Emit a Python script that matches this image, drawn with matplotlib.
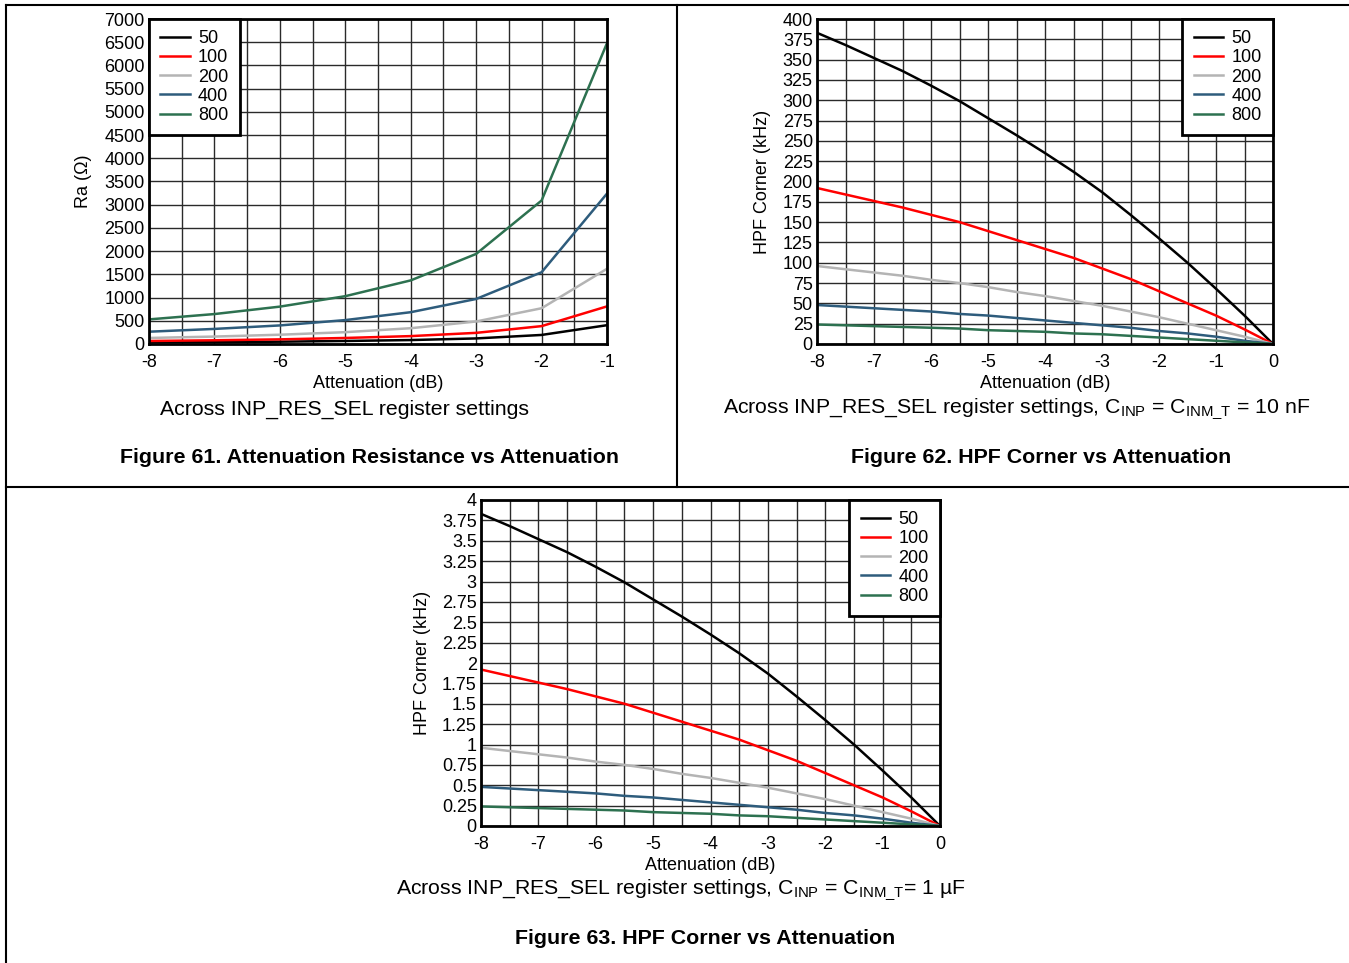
import numpy as np
import matplotlib
matplotlib.use("Agg")
import matplotlib.pyplot as plt
from matplotlib.lines import Line2D

plt.rcParams['font.family'] = ['Liberation Sans', 'DejaVu Sans']
plt.rcParams['mathtext.fontset'] = 'custom'
plt.rcParams['mathtext.rm'] = 'Liberation Sans'
plt.rcParams['axes.unicode_minus'] = False

# series labels and colours (INP_RES_SEL settings)
settings = ['50', '100', '200', '400', '800']
colors = ['#000000', '#ff0000', '#b4b4b4', '#2e5c7c', '#2d7150']

# Figure 61: attenuation resistance, read at integer dB
atten_ra = [-8, -7, -6, -5, -4, -3, -2, -1]
ra_50 = [35, 40, 50, 65, 85, 120, 195, 405]
ra_100 = [65, 80, 100, 130, 170, 240, 385, 810]
ra_200 = [130, 160, 200, 255, 340, 485, 770, 1620]
ra_400 = [265, 325, 400, 515, 685, 970, 1545, 3240]
ra_800 = [530, 645, 805, 1030, 1370, 1940, 3090, 6480]

# Figure 62: HPF corner (kHz), C = 10 nF, read every 0.5 dB
atten_hpf = [-8, -7.5, -7, -6.5, -6, -5.5, -5, -4.5, -4, -3.5, -3,
             -2.5, -2, -1.5, -1, -0.5, 0]
hpf10_50 = [383, 368, 352, 336, 318, 299, 278, 257, 235, 212, 187,
            159, 130, 100, 68, 35, 0]
hpf10_100 = [192, 184, 176, 168, 159, 150, 139, 128, 117, 106, 93,
             80, 65, 50, 35, 18, 0]
hpf10_200 = [96, 92, 88, 84, 79, 75, 70, 64, 59, 53, 47,
             40, 33, 25, 17, 9, 0]
hpf10_400 = [48, 46, 44, 42, 40, 37, 35, 32, 29, 26, 23,
             20, 16, 13, 9, 4, 0]
hpf10_800 = [24, 23, 22, 21, 20, 19, 17, 16, 15, 13, 12,
             10, 8, 6, 4, 2, 0]

# Figure 63: HPF corner (kHz), C = 1 uF
hpf1_50 = [3.83, 3.68, 3.52, 3.36, 3.18, 2.99, 2.78, 2.57, 2.35, 2.12, 1.87,
           1.59, 1.30, 1.00, 0.68, 0.35, 0]
hpf1_100 = [1.92, 1.84, 1.76, 1.68, 1.59, 1.50, 1.39, 1.28, 1.17, 1.06, 0.93,
            0.80, 0.65, 0.50, 0.35, 0.18, 0]
hpf1_200 = [0.96, 0.92, 0.88, 0.84, 0.79, 0.75, 0.70, 0.64, 0.59, 0.53, 0.47,
            0.40, 0.33, 0.25, 0.17, 0.09, 0]
hpf1_400 = [0.48, 0.46, 0.44, 0.42, 0.40, 0.37, 0.35, 0.32, 0.29, 0.26, 0.23,
            0.20, 0.16, 0.13, 0.09, 0.04, 0]
hpf1_800 = [0.24, 0.23, 0.22, 0.21, 0.20, 0.19, 0.17, 0.16, 0.15, 0.13, 0.12,
            0.10, 0.08, 0.06, 0.04, 0.02, 0]

W, H = 1349, 963
FS = 13


def box(l, t, r, b):
    # pixel box -> figure fraction rect
    return [l / W, 1 - b / H, (r - l) / W, (b - t) / H]


def style_axes(ax, xlim, ylim, ystep, ylabels, legend_loc):
    ax.set_xlim(*xlim)
    ax.set_ylim(*ylim)
    ax.set_xticks(np.arange(xlim[0], xlim[1] + 0.1, 1))
    ax.set_xticks(np.arange(xlim[0], xlim[1] + 0.1, 0.5), minor=True)
    ax.set_yticks(np.arange(ylim[0], ylim[1] + ystep / 2, ystep))
    ax.set_yticklabels(ylabels)
    ax.grid(True, which='both', color='#2a2a2a', lw=1.0)
    ax.tick_params(which='both', length=0, labelsize=FS)
    ax.tick_params(axis='x', pad=7)
    ax.tick_params(axis='y', pad=3)
    for s in ax.spines.values():
        s.set_linewidth(2.0)
        s.set_zorder(5)
    ax.set_axisbelow(True)
    leg = ax.legend(loc=legend_loc, borderaxespad=0, fancybox=False,
                    fontsize=FS, handlelength=1.65, handletextpad=0.45,
                    labelspacing=0.12, borderpad=0.62, framealpha=1)
    leg.get_frame().set_edgecolor('black')
    leg.get_frame().set_linewidth(2.0)
    leg.set_zorder(10)


def main():
    fig = plt.figure(figsize=(W / 100, H / 100), dpi=100)

    # panel frame lines
    frame = [((6, 1349), (5, 5)), ((6, 6), (5, 963)),
             ((677, 677), (5, 487)), ((6, 1349), (487, 487))]
    for xs, ys in frame:
        fig.add_artist(Line2D([x / W for x in xs], [1 - y / H for y in ys],
                              color='black', lw=1.5))

    # Figure 61
    ax1 = fig.add_axes(box(149, 19, 607, 344))
    for lab, c, ys in zip(settings, colors,
                          (ra_50, ra_100, ra_200, ra_400, ra_800)):
        ax1.plot(atten_ra, ys, color=c, lw=1.8, label=lab)
    style_axes(ax1, (-8, -1), (0, 7000), 500,
               [str(v) for v in range(0, 7001, 500)], 'upper left')
    ax1.set_ylabel('Ra (Ω)', fontsize=FS, labelpad=9)
    ax1.set_xlabel('Attenuation (dB)', fontsize=FS, labelpad=3)

    # Figure 62
    ax2 = fig.add_axes(box(817, 19, 1273, 344))
    for lab, c, ys in zip(settings, colors,
                          (hpf10_50, hpf10_100, hpf10_200, hpf10_400, hpf10_800)):
        ax2.plot(atten_hpf, ys, color=c, lw=1.8, label=lab)
    style_axes(ax2, (-8, 0), (0, 400), 25,
               [str(v) for v in range(0, 401, 25)], 'upper right')
    ax2.set_ylabel('HPF Corner (kHz)', fontsize=FS, labelpad=8)
    ax2.set_xlabel('Attenuation (dB)', fontsize=FS, labelpad=3)

    # Figure 63
    ax3 = fig.add_axes(box(481, 500, 940, 826))
    for lab, c, ys in zip(settings, colors,
                          (hpf1_50, hpf1_100, hpf1_200, hpf1_400, hpf1_800)):
        ax3.plot(atten_hpf, ys, color=c, lw=1.8, label=lab)
    style_axes(ax3, (-8, 0), (0, 4), 0.25,
               ['%g' % v for v in np.arange(0, 4.01, 0.25)], 'upper right')
    ax3.set_ylabel('HPF Corner (kHz)', fontsize=FS, labelpad=8)
    ax3.set_xlabel('Attenuation (dB)', fontsize=FS, labelpad=3)

    # captions and figure titles
    cap = dict(ha='center', va='center', fontsize=15.3)
    ttl = dict(ha='center', va='center', fontsize=15.4, fontweight='bold')
    fig.text(345 / W, 1 - 409 / H, 'Across INP_RES_SEL register settings', **cap)
    fig.text(370 / W, 1 - 457 / H,
             'Figure 61. Attenuation Resistance vs Attenuation', **ttl)
    fig.text(1017 / W, 1 - 409 / H,
             r'Across INP_RES_SEL register settings, C$_{\mathregular{INP}}$'
             r' = C$_{\mathregular{INM\_T}}$ = 10 nF', **cap)
    fig.text(1041 / W, 1 - 457 / H,
             'Figure 62. HPF Corner vs Attenuation', **ttl)
    fig.text(681 / W, 1 - 890 / H,
             r'Across INP_RES_SEL register settings, C$_{\mathregular{INP}}$'
             r' = C$_{\mathregular{INM\_T}}$= 1 µF', **cap)
    fig.text(705 / W, 1 - 938 / H,
             'Figure 63. HPF Corner vs Attenuation', **ttl)

    fig.savefig('out.png', dpi=100)


if __name__ == '__main__':
    main()
